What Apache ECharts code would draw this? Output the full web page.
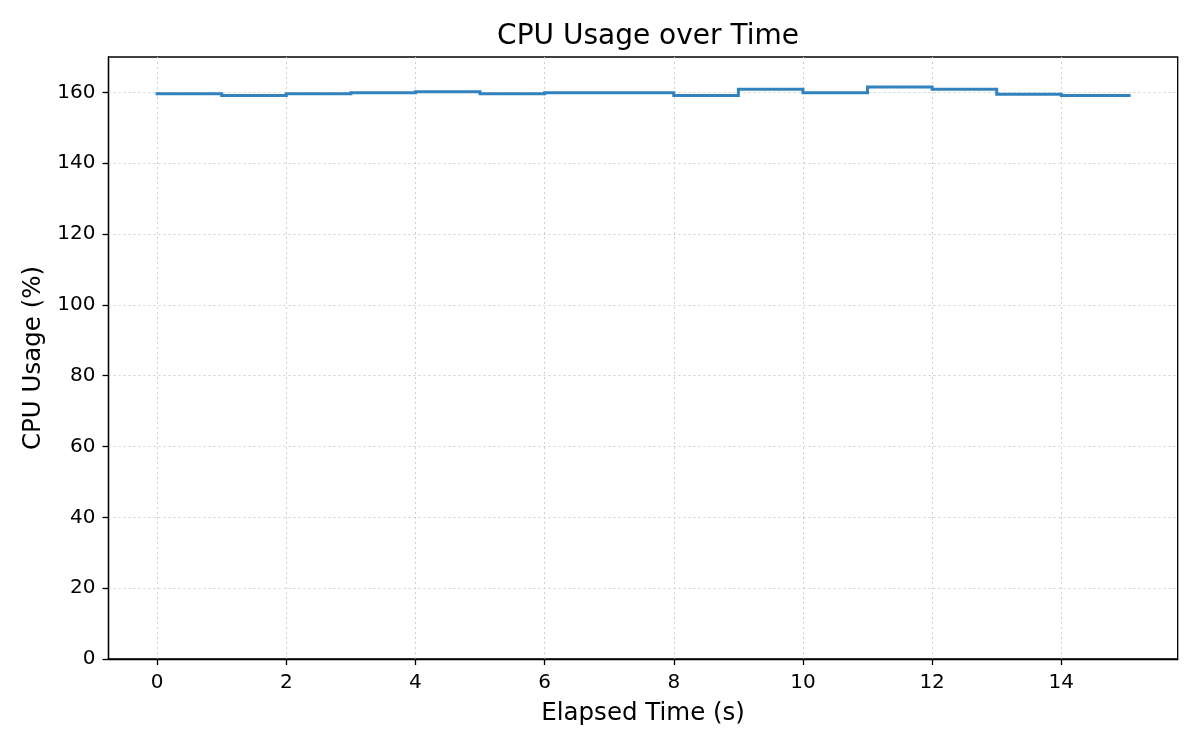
<!DOCTYPE html>
<html>
<head>
<meta charset="utf-8">
<script src="https://cdn.jsdelivr.net/npm/echarts@6/dist/echarts.min.js"></script>
<style>html,body{margin:0;padding:0;background:#fff}#c{width:1200px;height:750px}</style>
</head>
<body>
<div id="c"></div>
<script>
const elapsed = [0,1,2,3,4,5,6,7,8,9,10,11,12,13,14,15.05];
const cpuUsage = [159.6,159.1,159.6,159.9,160.2,159.6,159.9,159.9,159.1,160.9,159.9,161.5,160.9,159.5,159.15,159.15];
const xTicks = [0,2,4,6,8,10,12,14];
const yTicks = [0,20,40,60,80,100,120,140,160];

const chart = echarts.init(document.getElementById('c'), null, {renderer:'canvas'});
const font = 'DejaVu Sans';
const lineColor = '#3282bd';

function renderStep(params, api) {
  if (params.dataIndexInside !== 0) return null;
  const n = params.dataInsideLength;
  const pts = [];
  for (let i = 0; i < n; i++) {
    const x = api.value(0, i), y = api.value(1, i);
    if (i > 0) {
      const py = api.value(1, i - 1);
      pts.push(api.coord([x, py]));
    }
    pts.push(api.coord([x, y]));
  }
  return {type:'polyline', shape:{points:pts},
    style:{stroke:lineColor, lineWidth:3, fill:'none', lineJoin:'miter', lineCap:'square'}};
}

chart.setOption({
  animation:false,
  backgroundColor:'#ffffff',
  title:{text:'CPU Usage over Time',left:643,top:18,textAlign:'center',
    textStyle:{fontFamily:font,fontSize:28,fontWeight:'normal',color:'#000'}},
  grid:{left:108.5,right:22.3,top:57,bottom:91,show:true,borderColor:'#000',borderWidth:1.3,backgroundColor:'transparent'},
  xAxis:{type:'value',min:-0.7525,max:15.8025,splitNumber:8,
    name:'Elapsed Time (s)',nameLocation:'middle',nameGap:42,
    nameTextStyle:{fontFamily:font,fontSize:24.5,color:'#000'},
    axisLine:{show:true,onZero:false,lineStyle:{color:'#000',width:1.3}},
    axisTick:{show:true,length:6,customValues:xTicks,lineStyle:{color:'#000',width:1.3}},
    axisLabel:{customValues:xTicks,fontFamily:font,fontSize:20,color:'#000',margin:14},
    splitLine:{show:true,lineStyle:{color:'#cfcfcf',type:[2,3],width:1}}},
  yAxis:{type:'value',min:0,max:170,interval:20,
    name:'CPU Usage (%)',nameLocation:'middle',nameGap:58,
    nameTextStyle:{fontFamily:font,fontSize:24.5,color:'#000'},
    axisLine:{show:true,onZero:false,lineStyle:{color:'#000',width:1.3}},
    axisTick:{show:true,length:6,customValues:yTicks,lineStyle:{color:'#000',width:1.3}},
    axisLabel:{customValues:yTicks,fontFamily:font,fontSize:20,color:'#000',margin:13},
    splitLine:{show:true,lineStyle:{color:'#cfcfcf',type:[2,3],width:1}}},
  series:[{type:'custom',renderItem:renderStep,
    encode:{x:0,y:1},
    data:elapsed.map((x,i)=>[x,cpuUsage[i]]),
    itemStyle:{color:lineColor}}]
});
</script>
</body>
</html>
